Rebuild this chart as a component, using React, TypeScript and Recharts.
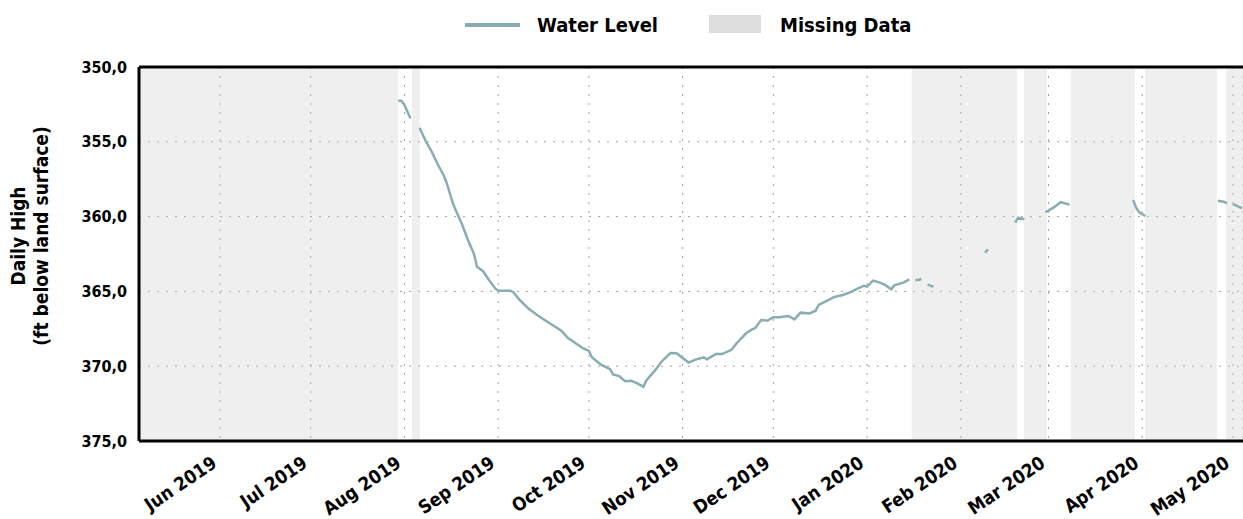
import React from "react";
import {
  ComposedChart,
  Line,
  XAxis,
  YAxis,
  CartesianGrid,
  ReferenceArea,
  ReferenceLine,
  Legend,
  Label,
} from "recharts";

// ---------- data ----------
const domainStart = "2019-05-05T05:00:00Z";
const domainEnd = "2020-05-04T08:00:00Z";

const monthTicks = [
  "2019-06-01", "2019-07-01", "2019-08-01", "2019-09-01", "2019-10-01", "2019-11-01",
  "2019-12-01", "2020-01-01", "2020-02-01", "2020-03-01", "2020-04-01", "2020-05-01",
];
const monthLabels = [
  "Jun 2019", "Jul 2019", "Aug 2019", "Sep 2019", "Oct 2019", "Nov 2019",
  "Dec 2019", "Jan 2020", "Feb 2020", "Mar 2020", "Apr 2020", "May 2020",
];

const yTicks = [350, 355, 360, 365, 370, 375];

const missingStarts = [
  "2019-05-05T05:00:00Z", "2019-08-03T12:00:00Z", "2020-01-15T19:00:00Z", "2020-02-21T22:00:00Z",
  "2020-03-08T10:00:00Z", "2020-04-01T22:00:00Z", "2020-04-28T17:00:00Z",
];
const missingEnds = [
  "2019-07-30T00:00:00Z", "2019-08-06T02:00:00Z", "2020-02-19T14:00:00Z", "2020-02-29T12:00:00Z",
  "2020-03-29T14:00:00Z", "2020-04-25T17:00:00Z", "2020-05-04T08:00:00Z",
];

const levelDates = [
  "2019-07-30", "2019-07-31", "2019-08-01", "2019-08-02", "2019-08-03", "2019-08-04",
  "2019-08-06", "2019-08-08", "2019-08-10", "2019-08-12", "2019-08-14", "2019-08-15",
  "2019-08-17", "2019-08-18", "2019-08-20", "2019-08-22", "2019-08-24", "2019-08-25",
  "2019-08-27", "2019-08-29", "2019-08-31", "2019-09-01", "2019-09-05", "2019-09-06",
  "2019-09-08", "2019-09-11", "2019-09-14", "2019-09-18", "2019-09-20", "2019-09-22",
  "2019-09-24", "2019-09-27", "2019-09-29", "2019-10-01", "2019-10-02", "2019-10-05",
  "2019-10-08", "2019-10-09", "2019-10-11", "2019-10-13", "2019-10-15", "2019-10-17",
  "2019-10-19", "2019-10-20", "2019-10-23", "2019-10-25", "2019-10-28", "2019-10-30",
  "2019-11-01", "2019-11-03", "2019-11-05", "2019-11-08", "2019-11-09", "2019-11-12",
  "2019-11-14", "2019-11-17", "2019-11-18", "2019-11-19", "2019-11-22", "2019-11-24",
  "2019-11-25", "2019-11-27", "2019-11-29", "2019-12-01", "2019-12-03", "2019-12-06",
  "2019-12-08", "2019-12-10", "2019-12-13", "2019-12-15", "2019-12-16", "2019-12-19",
  "2019-12-21", "2019-12-24", "2019-12-27", "2019-12-29", "2019-12-31", "2020-01-01",
  "2020-01-03", "2020-01-05", "2020-01-07", "2020-01-09", "2020-01-10", "2020-01-13",
  "2020-01-15", "2020-01-16",
  "2020-01-17", "2020-01-19", "2020-01-20",
  "2020-01-21", "2020-01-23", "2020-01-24",
  "2020-02-09", "2020-02-10", "2020-02-11",
  "2020-02-19", "2020-02-20", "2020-02-22", "2020-02-23",
  "2020-02-29", "2020-03-01", "2020-03-03", "2020-03-05", "2020-03-08", "2020-03-09",
  "2020-03-29", "2020-03-30", "2020-03-31", "2020-04-01", "2020-04-02", "2020-04-03",
  "2020-04-26", "2020-04-28", "2020-04-29", "2020-04-30",
  "2020-05-01", "2020-05-02", "2020-05-03", "2020-05-04",
];
const levelValues: (number | null)[] = [
  352.25, 352.25, 352.54, 352.99, 353.45, null,
  354.06, 354.95, 355.66, 356.5, 357.25, 357.77,
  359.1, 359.6, 360.5, 361.56, 362.5, 363.35,
  363.65, 364.25, 364.8, 364.95, 364.95, 365.05,
  365.55, 366.15, 366.6, 367.13, 367.38, 367.65,
  368.1, 368.52, 368.8, 368.98, 369.4, 369.9,
  370.2, 370.55, 370.66, 371.0, 370.97, 371.15,
  371.37, 370.95, 370.25, 369.7, 369.12, 369.13,
  369.45, 369.76, 369.58, 369.41, 369.54, 369.19,
  369.19, 368.92, 368.7, 368.43, 367.8, 367.54,
  367.45, 366.91, 366.96, 366.73, 366.73, 366.64,
  366.87, 366.42, 366.47, 366.29, 365.9, 365.6,
  365.38, 365.24, 365.02, 364.79, 364.62, 364.68,
  364.28, 364.4, 364.57, 364.86, 364.6, 364.41,
  364.2, null,
  364.25, 364.19, null,
  364.55, 364.68, null,
  362.41, 362.19, null,
  360.41, 360.07, 360.18, null,
  359.71, 359.6, 359.35, 359.04, 359.2, null,
  358.89, 359.4, 359.72, 359.83, 359.96, null,
  358.94, 359.0, 359.11, null,
  359.16, 359.25, 359.35, 359.44,
];

// ---------- helpers ----------
const toMs = (s: string) => Date.parse(s.length === 10 ? s + "T00:00:00Z" : s);

const rows = levelDates.map((d, i) => ({ t: toMs(d), level: levelValues[i] }));
const tickMs = monthTicks.map(toMs);
const labelByMs: Record<number, string> = {};
tickMs.forEach((m, i) => (labelByMs[m] = monthLabels[i]));

const FONT = "'DejaVu Sans Condensed', 'Liberation Sans Narrow', 'DejaVu Sans', sans-serif";
const LINE_COLOR = "#88adb2";

const XTick = (props: any) => {
  const { x, payload } = props;
  const ax = x - 2;
  const ay = 466;
  return (
    <text
      x={ax}
      y={ay}
      transform={`rotate(-34 ${ax} ${ay})`}
      textAnchor="end"
      fontFamily={FONT}
      fontWeight="bold"
      fontSize={18.5}
      fill="#000"
    >
      {labelByMs[payload.value]}
    </text>
  );
};

const YLabel = () => (
  <text
    transform={`translate(25 236) rotate(-90)`}
    textAnchor="middle"
    fontFamily={FONT}
    fontWeight="bold"
    fontSize={19}
    fill="#000"
  >
    <tspan x={0} dy={0}>Daily High</tspan>
    <tspan x={0} dy={23}>(ft below land surface)</tspan>
  </text>
);

const LegendContent = () => (
  <div style={{ position: "relative", width: 1243, height: 50, fontFamily: FONT, fontWeight: "bold", fontSize: 20 }}>
    <div style={{ position: "absolute", left: 465, top: 23, width: 55, height: 4, background: LINE_COLOR }} />
    <span style={{ position: "absolute", left: 537, top: 13, color: "#000" }}>Water Level</span>
    <div style={{ position: "absolute", left: 709, top: 15, width: 52, height: 18, background: "#dddddd" }} />
    <span style={{ position: "absolute", left: 780, top: 13, color: "#000" }}>Missing Data</span>
  </div>
);

export default function App() {
  return (
    <div style={{ position: "absolute", left: 0, top: 0, width: 1243, height: 519, background: "#fff" }}>
      <ComposedChart
        width={1243}
        height={519}
        data={rows}
        margin={{ top: 17, right: 0, bottom: 0, left: 0 }}
      >
        <Legend
          verticalAlign="top"
          align="left"
          height={50}
          content={<LegendContent />}
          wrapperStyle={{ position: "absolute", top: 0, left: 0, width: 1243, height: 50 }}
        />
        {missingStarts.map((s, i) => (
          <ReferenceArea
            key={i}
            x1={toMs(s)}
            x2={toMs(missingEnds[i])}
            fill="#c8c8c8"
            fillOpacity={0.29}
            stroke="none"
            ifOverflow="hidden"
          />
        ))}
        <CartesianGrid stroke="#a0a0a0" strokeDasharray="2 7" strokeWidth={1} />
        <XAxis
          dataKey="t"
          type="number"
          domain={[toMs(domainStart), toMs(domainEnd)]}
          ticks={tickMs}
          allowDataOverflow
          height={78}
          tickLine={false}
          axisLine={{ stroke: "#000", strokeWidth: 3 }}
          tick={<XTick />}
          interval={0}
        />
        <YAxis
          type="number"
          domain={[350, 375]}
          reversed
          ticks={yTicks}
          allowDataOverflow
          width={139}
          tickLine={false}
          axisLine={{ stroke: "#000", strokeWidth: 3 }}
          tickMargin={6}
          tick={{ fontFamily: FONT, fontWeight: "bold", fontSize: 16, fill: "#000" }}
          tickFormatter={(v: number) => v.toFixed(1).replace(".", ",")}
        >
          <Label content={<YLabel />} />
        </YAxis>
        <ReferenceLine y={350} stroke="#000" strokeWidth={3} />
        <Line
          type="linear"
          dataKey="level"
          stroke={LINE_COLOR}
          strokeWidth={2.5}
          dot={false}
          connectNulls={false}
          isAnimationActive={false}
          legendType="line"
        />
      </ComposedChart>
    </div>
  );
}
